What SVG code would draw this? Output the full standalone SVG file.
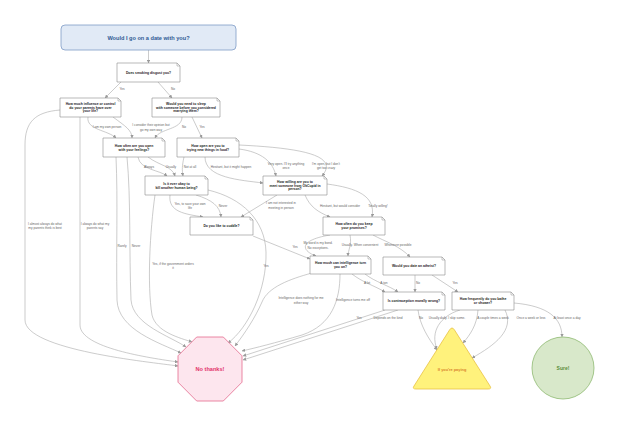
<svg xmlns="http://www.w3.org/2000/svg" width="620" height="435" viewBox="0 0 620 435">
<style>
.bg{fill:#ffffff}
.box path.b{fill:#ffffff;stroke:#8c8c8c;stroke-width:0.6}
.box path.f{fill:none;stroke:#8c8c8c;stroke-width:0.5}
.bt{font-family:"Liberation Sans",Arial,sans-serif;font-weight:bold;font-size:3.4px;fill:#222;text-anchor:middle}
.lbl{font-family:"Liberation Sans",Arial,sans-serif;font-size:3.2px;fill:#666;text-anchor:middle}
.edges path{fill:none;stroke:#a9a9a9;stroke-width:0.6;marker-end:url(#arr)}
</style>
<defs>
<marker id="arr" viewBox="0 0 6 6" refX="5.5" refY="3" markerWidth="3.5" markerHeight="3.5" orient="auto" markerUnits="userSpaceOnUse">
<path d="M0,0 L6,3 L0,6 Z" fill="#9a9a9a"/>
</marker>
</defs>
<rect class="bg" width="620" height="435"/>

<g id="edges" class="edges">
<path d="M148.5,50 V63"/>
<path d="M121,82 L105,98"/>
<path d="M158,82 L172,98"/>
<path d="M88,117 C86,130 108,130 116,138"/>
<path d="M113,117 C125,126 132,130 132,138"/>
<path d="M182,117 C182,130 160,128 155,138"/>
<path d="M192,117 L202,138"/>
<path d="M60,110 C35,112 25,122 25,145 L25,320 C25,350 150,362 178,366"/>
<path d="M80,117 L80,325 C80,348 150,358 178,362"/>
<path d="M116,157 C118,200 116,250 117,300 C118,330 160,343 181,353"/>
<path d="M127,157 C131,200 129,250 131,300 C133,325 170,336 186,347"/>
<path d="M138,157 C140,170 160,170 167,176"/>
<path d="M148,157 C160,166 172,166 175,176"/>
<path d="M184,157 C182,166 182,170 183,176"/>
<path d="M205,157 C205,178 240,180 263,183"/>
<path d="M239,149 C262,152 273,162 276,176"/>
<path d="M239,145 C300,148 340,155 322,176"/>
<path d="M170,195 C168,212 185,214 203,217"/>
<path d="M196,195 C212,200 220,206 221,217"/>
<path d="M155,195 C150,230 147,285 152,315 C156,332 180,338 192,342"/>
<path d="M208,190 C242,198 265,220 266,252 C267,290 248,328 228,343"/>
<path d="M277,195 L241,217"/>
<path d="M305,195 C310,207 318,212 330,217"/>
<path d="M327,184 C357,188 376,196 372,217"/>
<path d="M330,235 C300,240 300,250 316,256"/>
<path d="M350,235 C352,245 348,250 348,256"/>
<path d="M373,235 C386,242 400,246 410,257"/>
<path d="M253,236 L310,259"/>
<path d="M312,273 C290,279 268,287 262,302 C255,318 245,333 235,346"/>
<path d="M340,274 C340,300 332,325 302,335 C275,343 255,348 242,351"/>
<path d="M352,274 C362,282 375,286 385,292"/>
<path d="M365,274 C375,282 390,286 398,292"/>
<path d="M415,275 L415,292"/>
<path d="M432,275 L458,292"/>
<path d="M385,310 L243,356"/>
<path d="M398,310 L243,360"/>
<path d="M418,310 C420,325 428,338 437,350"/>
<path d="M460,310 C440,316 430,332 437,349"/>
<path d="M478,310 C477,325 470,335 463,343"/>
<path d="M505,310 C515,330 495,345 472,358"/>
<path d="M514,303 C548,306 562,318 562,337"/>
</g>

<g id="edge-labels">
<text class="lbl" x="122" y="89.5">Yes</text>
<text class="lbl" x="173" y="90">No</text>
<text class="lbl" x="107" y="128">I am my own person</text>
<text class="lbl" x="151" y="126">I consider their opinion but</text>
<text class="lbl" x="151" y="130.5">go my own way</text>
<text class="lbl" x="184" y="128">No</text>
<text class="lbl" x="202" y="128">Yes</text>
<text class="lbl" x="45" y="224.5">I almost always do what</text>
<text class="lbl" x="45" y="229">my parents think is best</text>
<text class="lbl" x="95" y="224.5">I always do what my</text>
<text class="lbl" x="95" y="229">parents say</text>
<text class="lbl" x="122" y="247">Rarely</text>
<text class="lbl" x="136" y="247">Never</text>
<text class="lbl" x="149" y="168">Always</text>
<text class="lbl" x="171" y="168">Usually</text>
<text class="lbl" x="190" y="168">Not at all</text>
<text class="lbl" x="231" y="167.5">Hesitant, but it might happen</text>
<text class="lbl" x="286" y="164.5">Very open. I'll try anything</text>
<text class="lbl" x="286" y="169">once</text>
<text class="lbl" x="326" y="164.5">I'm open, but I don't</text>
<text class="lbl" x="326" y="169">get too crazy</text>
<text class="lbl" x="190" y="204.5">Yes, to save your own</text>
<text class="lbl" x="190" y="209">life</text>
<text class="lbl" x="223" y="207">Never</text>
<text class="lbl" x="173" y="264.5">Yes, if the government orders</text>
<text class="lbl" x="173" y="269">it</text>
<text class="lbl" x="266" y="266.5">Yes</text>
<text class="lbl" x="281" y="204">I am not interested in</text>
<text class="lbl" x="281" y="208.5">meeting in person</text>
<text class="lbl" x="340" y="207">Hesitant, but would consider</text>
<text class="lbl" x="378" y="207">Totally willing!</text>
<text class="lbl" x="318" y="244">My word is my bond.</text>
<text class="lbl" x="318" y="248.5">No exceptions.</text>
<text class="lbl" x="295" y="247.5">Yes</text>
<text class="lbl" x="360" y="246">Usually. When convenient</text>
<text class="lbl" x="398" y="246">Whenever possible</text>
<text class="lbl" x="301" y="299">Intelligence does nothing for me</text>
<text class="lbl" x="301" y="303.5">either way</text>
<text class="lbl" x="353" y="301">Intelligence turns me off</text>
<text class="lbl" x="367" y="284">A lot</text>
<text class="lbl" x="384" y="284">A ton</text>
<text class="lbl" x="418" y="284">No</text>
<text class="lbl" x="455" y="284">Yes</text>
<text class="lbl" x="359" y="319">Yes</text>
<text class="lbl" x="388" y="319">Depends on the kind</text>
<text class="lbl" x="421" y="319">No</text>
<text class="lbl" x="447" y="319">Usually daily. I skip some.</text>
<text class="lbl" x="493" y="319">A couple times a week</text>
<text class="lbl" x="531" y="319">Once a week or less</text>
<text class="lbl" x="567" y="319">At least once a day</text>
</g>

<g id="title">
<rect x="61" y="25" width="175" height="25" rx="4" fill="#e1eaf6" stroke="#7f9cc6" stroke-width="0.8"/>
<text x="148.5" y="39.5" font-family="Liberation Sans, Arial, sans-serif" font-weight="bold" font-size="5.6" fill="#2f5a94" text-anchor="middle">Would I go on a date with you?</text>
</g>

<g id="n1" class="box">
<path class="b" d="M117,63 H177 L180,66 V82 H117 Z"/><path class="f" d="M177,63 V66 H180"/>
<text class="bt" x="148.5" y="73.7">Does smoking disgust you?</text>
</g>
<g id="n2" class="box">
<path class="b" d="M60,98 H118 L121,101 V117 H60 Z"/><path class="f" d="M118,98 V101 H121"/>
<text class="bt" x="90.5" y="105.1">How much influence or control</text>
<text class="bt" x="90.5" y="108.7">do your parents have over</text>
<text class="bt" x="90.5" y="112.3">your life?</text>
</g>
<g id="n3" class="box">
<path class="b" d="M152,98 H217 L220,101 V117 H152 Z"/><path class="f" d="M217,98 V101 H220"/>
<text class="bt" x="186" y="105.1">Would you need to sleep</text>
<text class="bt" x="186" y="108.7">with someone before you considered</text>
<text class="bt" x="186" y="112.3">marrying them?</text>
</g>
<g id="n4" class="box">
<path class="b" d="M103,138 H162 L165,141 V157 H103 Z"/><path class="f" d="M162,138 V141 H165"/>
<text class="bt" x="134" y="146.9">How often are you open</text>
<text class="bt" x="134" y="150.5">with your feelings?</text>
</g>
<g id="n5" class="box">
<path class="b" d="M177,138 H236 L239,141 V157 H177 Z"/><path class="f" d="M236,138 V141 H239"/>
<text class="bt" x="208" y="146.9">How open are you to</text>
<text class="bt" x="208" y="150.5">trying new things in food?</text>
</g>
<g id="n6" class="box">
<path class="b" d="M145,176 H205 L208,179 V195 H145 Z"/><path class="f" d="M205,176 V179 H208"/>
<text class="bt" x="176.5" y="184.9">Is it ever okay to</text>
<text class="bt" x="176.5" y="188.5">kill another human being?</text>
</g>
<g id="n7" class="box">
<path class="b" d="M263,176 H324 L327,179 V195 H263 Z"/><path class="f" d="M324,176 V179 H327"/>
<text class="bt" x="295" y="183.1">How willing are you to</text>
<text class="bt" x="295" y="186.7">meet someone from OkCupid in</text>
<text class="bt" x="295" y="190.3">person?</text>
</g>
<g id="n8" class="box">
<path class="b" d="M190,217 H250 L253,220 V235 H190 Z"/><path class="f" d="M250,217 V220 H253"/>
<text class="bt" x="221.5" y="227.2">Do you like to cuddle?</text>
</g>
<g id="n9" class="box">
<path class="b" d="M323,217 H382 L385,220 V235 H323 Z"/><path class="f" d="M382,217 V220 H385"/>
<text class="bt" x="354" y="225.4">How often do you keep</text>
<text class="bt" x="354" y="229">your promises?</text>
</g>
<g id="n10" class="box">
<path class="b" d="M310,256 H368 L371,259 V274 H310 Z"/><path class="f" d="M368,256 V259 H371"/>
<text class="bt" x="340.5" y="264.4">How much can intelligence turn</text>
<text class="bt" x="340.5" y="268">you on?</text>
</g>
<g id="n11" class="box">
<path class="b" d="M383,257 H442 L445,260 V275 H383 Z"/><path class="f" d="M442,257 V260 H445"/>
<text class="bt" x="414" y="267.2">Would you date an atheist?</text>
</g>
<g id="n12" class="box">
<path class="b" d="M383,292 H442 L445,295 V310 H383 Z"/><path class="f" d="M442,292 V295 H445"/>
<text class="bt" x="414" y="302.2">Is contraception morally wrong?</text>
</g>
<g id="n13" class="box">
<path class="b" d="M452,292 H511 L514,295 V310 H452 Z"/><path class="f" d="M511,292 V295 H514"/>
<text class="bt" x="483" y="300.4">How frequently do you bathe</text>
<text class="bt" x="483" y="304">or shower?</text>
</g>

<g id="no-thanks">
<polygon points="196.7,337 223.3,337 242,355.8 242,382.2 223.3,401 196.7,401 178,382.2 178,355.8" fill="#fde6ee" stroke="#e46a8e" stroke-width="0.8"/>
<text x="210" y="371" font-family="Liberation Sans, Arial, sans-serif" font-weight="bold" font-size="5.6" fill="#e2336a" text-anchor="middle">No thanks!</text>
</g>
<g id="if-paying">
<path d="M449.5,330 Q452,326 454.5,330 L490,386 Q492,389 488,389 L416,389 Q412,389 414,386 Z" fill="#fff27c" stroke="#e9c244" stroke-width="0.8"/>
<text x="452" y="371" font-family="Liberation Sans, Arial, sans-serif" font-weight="bold" font-size="3.9" fill="#d9822b" text-anchor="middle">If you're paying</text>
</g>
<g id="sure">
<circle cx="563" cy="368" r="31" fill="#d8e8ca" stroke="#8fba72" stroke-width="0.8"/>
<text x="563" y="370" font-family="Liberation Sans, Arial, sans-serif" font-weight="bold" font-size="5" fill="#5b8e3a" text-anchor="middle">Sure!</text>
</g>
</svg>
